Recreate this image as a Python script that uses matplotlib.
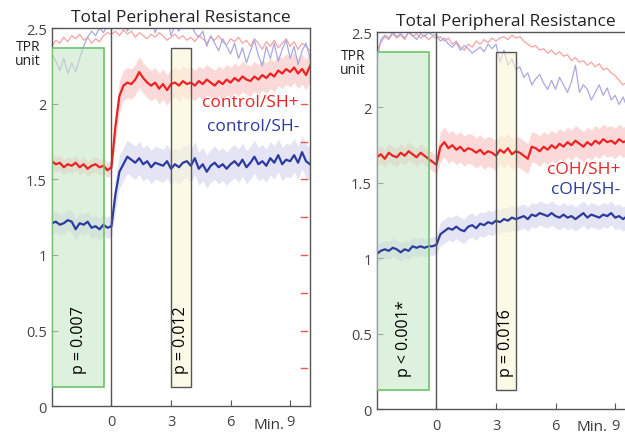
import numpy as np
import matplotlib
matplotlib.use("Agg")
import matplotlib.pyplot as plt
from matplotlib.patches import Rectangle
from matplotlib.ticker import FuncFormatter

plt.rcParams['font.family'] = ['Open Sans', 'DejaVu Sans']

# sampled every 0.2 min, starting at -3 min
ctrl_shp = [1.62, 1.60, 1.61, 1.58, 1.60, 1.59, 1.61, 1.58, 1.60, 1.57, 1.59, 1.60, 1.58, 1.59, 1.56,
            1.58,
            1.85, 2.05, 2.12, 2.14, 2.13, 2.16, 2.21, 2.17, 2.14, 2.12, 2.14, 2.10, 2.13, 2.09, 2.13,
            2.14, 2.12, 2.15, 2.13, 2.14, 2.12, 2.15, 2.13, 2.16, 2.14, 2.12, 2.15, 2.13, 2.16, 2.14,
            2.17, 2.15, 2.18, 2.16, 2.15, 2.18, 2.16, 2.19, 2.17, 2.20, 2.18, 2.22, 2.20, 2.23, 2.21,
            2.24, 2.20, 2.23, 2.19, 2.25]
ctrl_shm = [1.21, 1.22, 1.20, 1.21, 1.23, 1.22, 1.17, 1.21, 1.20, 1.22, 1.18, 1.19, 1.17, 1.20, 1.18,
            1.19,
            1.40, 1.55, 1.60, 1.65, 1.63, 1.61, 1.64, 1.60, 1.62, 1.58, 1.61, 1.60, 1.59, 1.62, 1.57,
            1.60, 1.58, 1.61, 1.62, 1.59, 1.64, 1.57, 1.60, 1.55, 1.59, 1.61, 1.58, 1.60, 1.57, 1.60,
            1.62, 1.59, 1.63, 1.58, 1.61, 1.65, 1.60, 1.62, 1.59, 1.64, 1.61, 1.66, 1.60, 1.63, 1.62,
            1.66, 1.61, 1.68, 1.62, 1.60]
ctrl_shp_faint = [2.38, 2.42, 2.40, 2.44, 2.41, 2.45, 2.43, 2.46, 2.42, 2.44, 2.40, 2.43, 2.41, 2.45, 2.47,
                  2.46,
                  2.48, 2.45, 2.49, 2.46, 2.48, 2.44, 2.47, 2.45, 2.43, 2.46, 2.44, 2.47, 2.45, 2.42, 2.44,
                  2.46, 2.43, 2.45, 2.42, 2.44, 2.41, 2.45, 2.43, 2.40, 2.44, 2.42, 2.45, 2.41, 2.39, 2.43,
                  2.41, 2.44, 2.40, 2.42, 2.38, 2.43, 2.40, 2.36, 2.41, 2.38, 2.42, 2.37, 2.40, 2.43, 2.38,
                  2.41, 2.36, 2.40, 2.38, 2.35]
ctrl_shm_faint = [2.33, 2.28, 2.22, 2.30, 2.20, 2.27, 2.21, 2.30, 2.38, 2.44, 2.48, 2.45, 2.50, 2.47, 2.52,
                  2.49,
                  2.55, 2.50, 2.56, 2.48, 2.53, 2.58, 2.50, 2.55, 2.52, 2.56, 2.47, 2.54, 2.50, 2.58, 2.45,
                  2.52, 2.48, 2.55, 2.50, 2.53, 2.47, 2.44, 2.48, 2.38, 2.45, 2.40, 2.35, 2.43, 2.38, 2.33,
                  2.40, 2.30, 2.37, 2.27, 2.35, 2.42, 2.32, 2.25, 2.38, 2.30, 2.40, 2.28, 2.36, 2.42, 2.30,
                  2.38, 2.26, 2.35, 2.40, 2.30]

coh_shp = [1.67, 1.69, 1.66, 1.70, 1.68, 1.67, 1.70, 1.68, 1.71, 1.69, 1.67, 1.70, 1.68, 1.66, 1.64,
           1.62,
           1.74, 1.77, 1.73, 1.75, 1.72, 1.74, 1.71, 1.73, 1.72, 1.70, 1.72, 1.69, 1.71, 1.70, 1.68,
           1.72, 1.70, 1.73, 1.69, 1.71, 1.70, 1.68, 1.66, 1.74, 1.73, 1.71, 1.74, 1.72, 1.75, 1.73,
           1.76, 1.74, 1.77, 1.75, 1.78, 1.76, 1.74, 1.77, 1.75, 1.78, 1.76, 1.79, 1.77, 1.78, 1.76,
           1.79, 1.77, 1.78, 1.76, 1.78]
coh_shm = [1.03, 1.05, 1.06, 1.05, 1.07, 1.06, 1.04, 1.06, 1.05, 1.08, 1.07, 1.08, 1.07, 1.08, 1.08,
           1.09,
           1.16, 1.18, 1.20, 1.19, 1.21, 1.19, 1.18, 1.21, 1.22, 1.20, 1.23, 1.22, 1.24, 1.23, 1.25,
           1.24, 1.26, 1.25, 1.27, 1.26, 1.27, 1.28, 1.26, 1.29, 1.28, 1.30, 1.29, 1.28, 1.30, 1.28,
           1.27, 1.29, 1.27, 1.28, 1.26, 1.28, 1.30, 1.27, 1.29, 1.28, 1.27, 1.29, 1.28, 1.30, 1.27,
           1.28, 1.26, 1.28, 1.27, 1.26]
coh_shp_faint = [2.38, 2.43, 2.47, 2.45, 2.49, 2.46, 2.48, 2.45, 2.50, 2.47, 2.49, 2.46, 2.48, 2.45, 2.47,
                 2.46,
                 2.47, 2.44, 2.46, 2.42, 2.44, 2.40, 2.38, 2.42, 2.40, 2.44, 2.42, 2.45, 2.43, 2.46, 2.44,
                 2.46, 2.47, 2.45, 2.48, 2.46, 2.47, 2.44, 2.42, 2.40, 2.41, 2.38, 2.39, 2.36, 2.38, 2.35,
                 2.37, 2.34, 2.35, 2.31, 2.33, 2.30, 2.31, 2.28, 2.30, 2.27, 2.29, 2.25, 2.26, 2.23, 2.21,
                 2.18, 2.15, 2.17, 2.13, 2.14]
coh_shm_faint = [2.30, 2.45, 2.48, 2.46, 2.50, 2.47, 2.49, 2.46, 2.50, 2.48, 2.45, 2.49, 2.47, 2.50, 2.48,
                 2.48,
                 2.44, 2.46, 2.42, 2.40, 2.43, 2.38, 2.41, 2.39, 2.36, 2.38, 2.40, 2.37, 2.42, 2.39, 2.42,
                 2.30, 2.38, 2.28, 2.32, 2.25, 2.27, 2.20, 2.23, 2.15, 2.19, 2.22, 2.16, 2.12, 2.18, 2.12,
                 2.20, 2.15, 2.10, 2.17, 2.28, 2.10, 2.15, 2.12, 2.05, 2.10, 2.15, 2.08, 2.13, 2.05, 2.08,
                 2.02, 2.07, 2.00, 2.04, 2.00]

# half-width of the shaded band: [before 0 min, after 0 min]
ctrl_shp_sd = [0.05, 0.10]
ctrl_shm_sd = [0.07, 0.11]
coh_shp_sd = [0.06, 0.10]
coh_shm_sd = [0.06, 0.08]

x_ticks = [0, 3, 6, 9]
y_ticks = [0, 0.5, 1, 1.5, 2, 2.5]
right_ticks = [0.25, 0.5, 0.75, 1.0, 1.25, 1.5, 1.75, 2.0]

RED = '#ee2222'
BLUE = '#2b3b9f'
RED_FAINT = '#f5a3a3'
BLUE_FAINT = '#a9a9e0'
GREY = '#555555'


def minutes(vals):
    return -3 + 0.2 * np.arange(len(vals))


def band(ax, vals, sd, color):
    t = minutes(vals)
    y = np.array(vals)
    w = np.where(t <= 0, sd[0], sd[1])
    ax.fill_between(t, y - w, y + w, color=color, lw=0, zorder=1)


def panel(ax, shp, shm, shp_f, shm_f, sd_p, sd_m, p_left, p_right, lab_p, lab_m, lab_pos):
    band(ax, shp, sd_p, '#fbd9d9')
    band(ax, shm, sd_m, '#e4e4f4')
    ax.plot(minutes(shp_f), shp_f, color=RED_FAINT, lw=0.9, zorder=2)
    ax.plot(minutes(shm_f), shm_f, color=BLUE_FAINT, lw=0.9, zorder=2)

    ax.add_patch(Rectangle((-3, 0.125), 2.65, 2.245, facecolor='#c9e6c9', alpha=0.6,
                           edgecolor='none', zorder=3))
    ax.add_patch(Rectangle((-3, 0.125), 2.65, 2.245, facecolor='none',
                           edgecolor='#6cc46c', lw=1.2, zorder=5))
    ax.add_patch(Rectangle((3, 0.125), 1, 2.245, facecolor='#fbf6d6', alpha=0.6,
                           edgecolor='none', zorder=3))
    ax.add_patch(Rectangle((3, 0.125), 1, 2.245, facecolor='none',
                           edgecolor=GREY, lw=1.0, zorder=5))
    ax.axvline(0, color=GREY, lw=1.0, zorder=5)

    ax.plot(minutes(shp), shp, color=RED, lw=1.6, zorder=4)
    ax.plot(minutes(shm), shm, color=BLUE, lw=1.6, zorder=4)

    ax.text(-1.65, 0.22, p_left, rotation=90, ha='center', va='bottom', fontsize=11.5, zorder=6)
    ax.text(3.5, 0.22, p_right, rotation=90, ha='center', va='bottom', fontsize=11.5, zorder=6)
    ax.text(lab_pos[0], lab_pos[1], lab_p, color=RED, ha='right', va='center',
            fontsize=12.5, zorder=6)
    ax.text(lab_pos[0], lab_pos[2], lab_m, color=BLUE, ha='right', va='center',
            fontsize=12.5, zorder=6)

    ax.set_xlim(-3, 10)
    ax.set_ylim(0, 2.5)
    ax.set_xticks(x_ticks)
    ax.set_yticks(y_ticks)
    ax.yaxis.set_major_formatter(FuncFormatter(lambda v, _: f'{v:g}'))
    ax.tick_params(direction='in', length=4, color=GREY, labelcolor='#444444', labelsize=10.5)
    ax.tick_params(axis='x', pad=6)
    for s in ax.spines.values():
        s.set_color(GREY)
        s.set_linewidth(1.0)
    ax.set_title('Total Peripheral Resistance', fontsize=12.5, color='#222222', pad=5)


fig = plt.figure(figsize=(6.25, 4.35), dpi=100)
ax1 = fig.add_axes([0.083, 0.064, 0.413, 0.869])
ax2 = fig.add_axes([0.603, 0.057, 0.413, 0.867])

panel(ax1, ctrl_shp, ctrl_shm, ctrl_shp_faint, ctrl_shm_faint, ctrl_shp_sd, ctrl_shm_sd,
      'p = 0.007', 'p = 0.012', 'control/SH+', 'control/SH-', (9.45, 2.01, 1.85))
panel(ax2, coh_shp, coh_shm, coh_shp_faint, coh_shm_faint, coh_shp_sd, coh_shm_sd,
      'p < 0.001*', 'p = 0.016', 'cOH/SH+', 'cOH/SH-', (9.25, 1.59, 1.46))

# red inward marks on the right side of the first panel
for v in right_ticks:
    ax1.plot([9.55, 9.85], [v, v], color='#ee5555', lw=1.0, zorder=6)

fig.text(0.405, 0.022, 'Min.', fontsize=11, color='#333333', ha='left', va='center')
fig.text(0.923, 0.018, 'Min.', fontsize=11, color='#333333', ha='left', va='center')

fig.text(0.045, 0.875, 'TPR\nunit', ha='center', va='center', fontsize=10,
         color='#222222', linespacing=0.9)
fig.text(0.565, 0.855, 'TPR\nunit', ha='center', va='center', fontsize=10,
         color='#222222', linespacing=0.9)

fig.savefig('out.png', dpi=100)
